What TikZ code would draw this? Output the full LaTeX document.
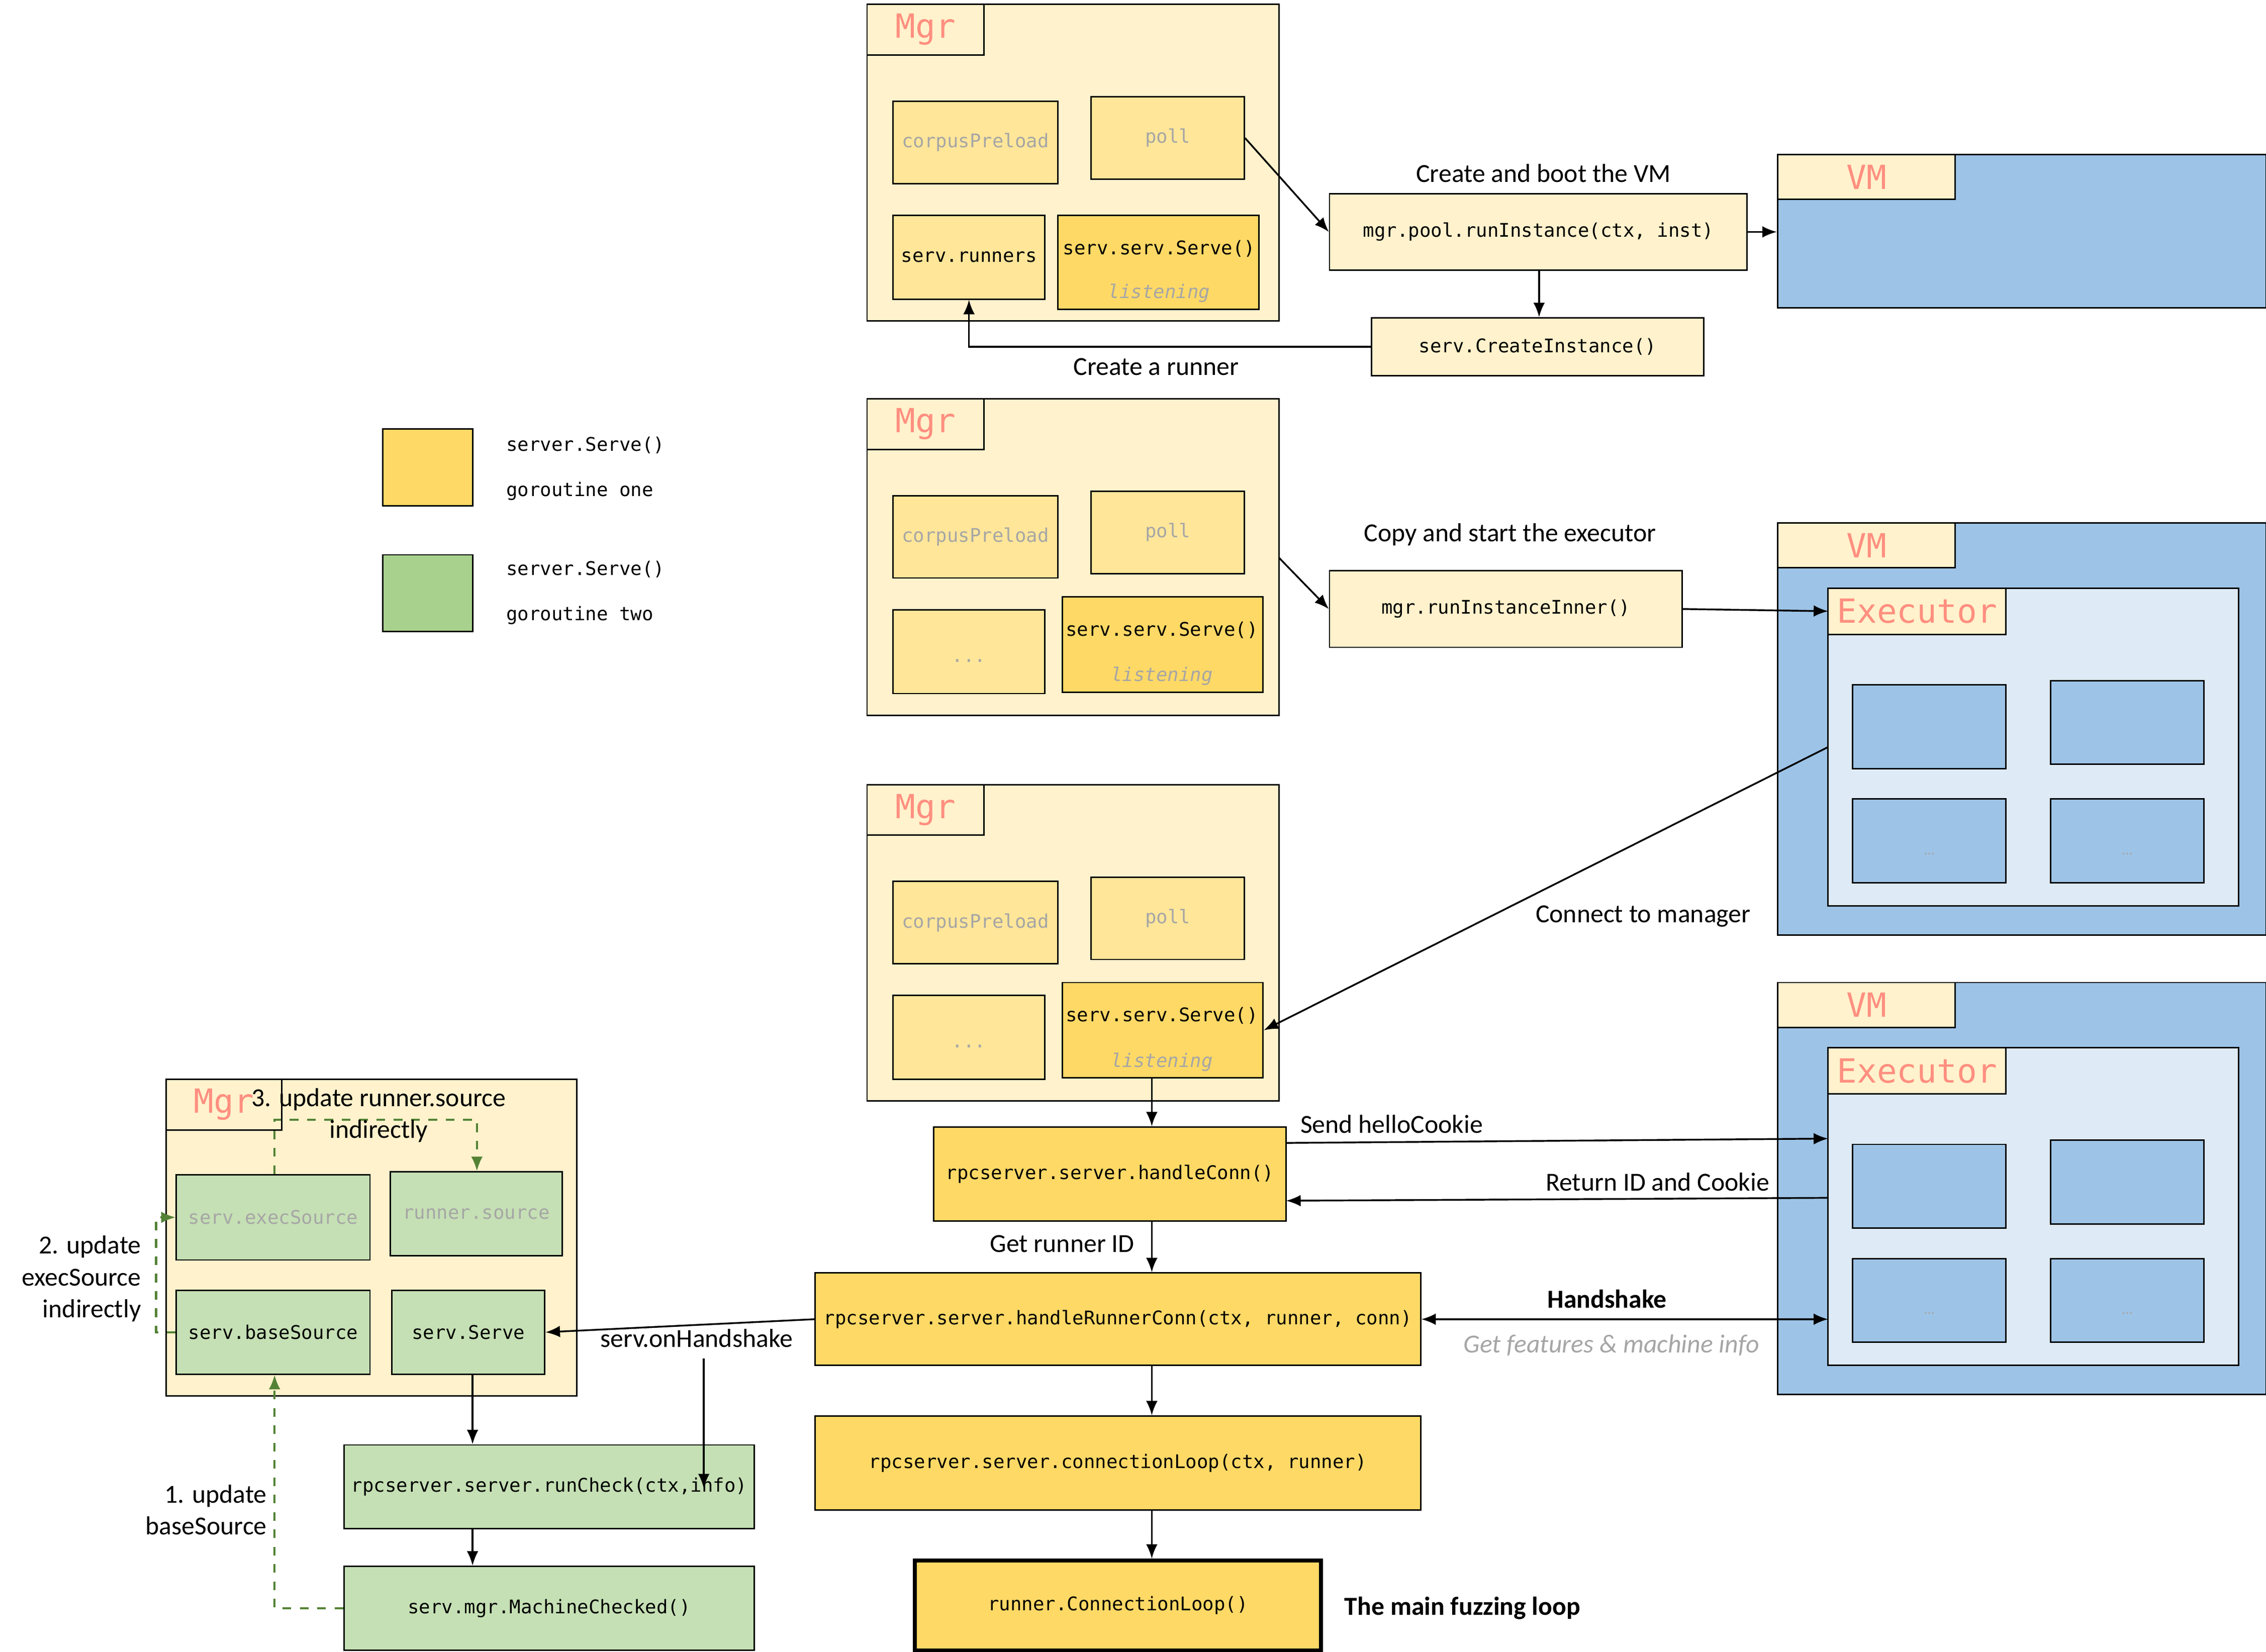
\documentclass[tikz,border=0pt]{standalone}
\usepackage{fontspec}
\setmainfont{Carlito}
\newfontfamily\cm{DejaVu Sans Mono}
\usetikzlibrary{arrows.meta}
\definecolor{ly}{HTML}{FFF2CC}
\definecolor{my}{HTML}{FFE699}
\definecolor{dy}{HTML}{FFD966}
\definecolor{lg}{HTML}{C5E0B4}
\definecolor{dg}{HTML}{A9D18E}
\definecolor{bl}{HTML}{9DC3E6}
\definecolor{lb}{HTML}{DEEBF7}
\definecolor{sal}{HTML}{FF8F80}
\definecolor{gtx}{HTML}{A6A6A6}
\definecolor{dgl}{HTML}{548235}
\newcommand\bx[7]{\node[#1,minimum width={(#5-(#3))*0.5pt},minimum height={(#6-(#4))*0.5pt}] (#2) at ({(#3+#5)/2},{(#4+#6)/2}) {#7};}
\tikzset{
 base/.style={draw=black,line width=0.5pt,inner sep=0pt,rectangle},
 mgr/.style={base,fill=ly},
 sub/.style={base,fill=my,font=\cm\fontsize{6.5}{8}\selectfont},
 hot/.style={base,fill=dy,font=\cm\fontsize{6.5}{8}\selectfont},
 grn/.style={base,fill=lg,font=\cm\fontsize{6.5}{8}\selectfont},
 vm/.style={base,fill=bl},
 exe/.style={base,fill=lb},
 tab/.style={base,fill=ly,text=sal,font=\cm\fontsize{11.5}{13}\selectfont},
 pale/.style={base,fill=ly,font=\cm\fontsize{6.5}{8}\selectfont},
 lbl/.style={font=\fontsize{9}{11}\selectfont,inner sep=1pt},
 code/.style={font=\cm\fontsize{6.5}{8}\selectfont,inner sep=1pt},
 lis/.style={font=\cm\itshape\fontsize{6.5}{8}\selectfont,text=gtx,inner sep=0pt},
 arr/.style={-{Latex[length=5pt,width=4pt]},line width=0.6pt},
 garr/.style={-{Latex[length=5pt,width=4pt]},line width=0.7pt,dgl,dashed},
}
\begin{document}
\begin{tikzpicture}[x=0.5pt,y=-0.5pt]
\useasboundingbox[fill=white] (0,0) rectangle (1568,1143);
% Mgr 1
\bx{mgr}{m1}{600}{3}{885}{222}{}
\bx{tab}{m1t}{600}{3}{681}{38}{Mgr}
\bx{sub,text=gtx}{m1c}{618}{70}{732}{127}{corpusPreload}
\bx{sub,text=gtx}{m1p}{755}{67}{861}{124}{poll}
\bx{sub}{m1r}{618}{149}{723}{207}{serv.runners}
\bx{hot}{m1s}{732}{149}{871}{214}{}
\node[code] at (802,172) {serv.serv.Serve()};
\node[lis] at (802,203) {listening};
\bx{pale}{ri}{920}{134}{1209}{187}{mgr.pool.runInstance(ctx, inst)}
\node[lbl] at (1068,120) {Create and boot the VM};
\bx{vm}{vm1}{1230}{107}{1568}{213}{}
\bx{tab}{vm1t}{1230}{107}{1353}{138}{VM}
\bx{pale}{ci}{949}{220}{1179}{260}{serv.CreateInstance()}
\draw[arr] (m1p.east) -- (ri.west);
\draw[arr] (ri.east) -- (ri.east -| vm1.west);
\draw[arr] (ri.south -| 1065,0) -- (ci.north -| 1065,0);
\draw[arr] (ci.west) -| (m1r.south);
\node[lbl] at (800,254) {Create a runner};
% legend
\bx{base,fill=dy}{lg1}{265}{297}{327}{350}{}
\bx{base,fill=dg}{lg2}{265}{384}{327}{437}{}
\node[code,anchor=west] at (348,308) {server.Serve()};
\node[code,anchor=west] at (348,340) {goroutine one};
\node[code,anchor=west] at (348,394) {server.Serve()};
\node[code,anchor=west] at (348,426) {goroutine two};
% Mgr 2
\bx{mgr}{m2}{600}{276}{885}{495}{}
\bx{tab}{m2t}{600}{276}{681}{311}{Mgr}
\bx{sub,text=gtx}{m2c}{618}{343}{732}{400}{corpusPreload}
\bx{sub,text=gtx}{m2p}{755}{340}{861}{397}{poll}
\bx{sub,text=gtx}{m2d}{618}{422}{723}{480}{\raisebox{-2ex}{...}}
\bx{hot}{m2s}{735}{413}{874}{479}{}
\node[code] at (804,436) {serv.serv.Serve()};
\node[lis] at (804,468) {listening};
\bx{pale}{rii}{920}{395}{1164}{448}{mgr.runInstanceInner()}
\node[lbl] at (1045,370) {Copy and start the executor};
\draw[arr] (885,386) -- (rii.west);
\bx{vm}{vm2}{1230}{362}{1568}{647}{}
\bx{tab}{vm2t}{1230}{362}{1353}{393}{VM}
\bx{exe}{ex2}{1265}{407}{1549}{627}{}
\bx{tab}{ex2t}{1265}{407}{1388}{439}{Executor}
\bx{vm}{a1}{1282}{474}{1388}{532}{}
\bx{vm}{a2}{1419}{471}{1525}{529}{}
\bx{vm,font=\tiny,text=gtx}{a3}{1282}{553}{1388}{611}{\raisebox{-4ex}{...}}
\bx{vm,font=\tiny,text=gtx}{a4}{1419}{553}{1525}{611}{\raisebox{-4ex}{...}}
\draw[arr] (rii.east) -- (1265,423);
% Mgr 3
\bx{mgr}{m3}{600}{543}{885}{762}{}
\bx{tab}{m3t}{600}{543}{681}{578}{Mgr}
\bx{sub,text=gtx}{m3c}{618}{610}{732}{667}{corpusPreload}
\bx{sub,text=gtx}{m3p}{755}{607}{861}{664}{poll}
\bx{sub,text=gtx}{m3d}{618}{689}{723}{747}{\raisebox{-2ex}{...}}
\bx{hot}{m3s}{735}{680}{874}{746}{}
\node[code] at (804,703) {serv.serv.Serve()};
\node[lis] at (804,735) {listening};
\draw[arr] (1265,517) -- (m3s.east);
\node[lbl] at (1137,634) {Connect to manager};
% VM 3
\bx{vm}{vm3}{1230}{680}{1568}{965}{}
\bx{tab}{vm3t}{1230}{680}{1353}{711}{VM}
\bx{exe}{ex3}{1265}{725}{1549}{945}{}
\bx{tab}{ex3t}{1265}{725}{1388}{757}{Executor}
\bx{vm}{b1}{1282}{792}{1388}{850}{}
\bx{vm}{b2}{1419}{789}{1525}{847}{}
\bx{vm,font=\tiny,text=gtx}{b3}{1282}{871}{1388}{929}{\raisebox{-4ex}{...}}
\bx{vm,font=\tiny,text=gtx}{b4}{1419}{871}{1525}{929}{\raisebox{-4ex}{...}}
% main chain
\bx{hot}{hc}{646}{780}{890}{845}{rpcserver.server.handleConn()}
\draw[arr] (m3s.south -| 797,0) -- (hc.north -| 797,0);
\draw[arr] (890,791) -- (1265,788);
\node[lbl] at (963,778) {Send helloCookie};
\draw[arr] (1265,829) -- (890,831);
\node[lbl] at (1147,818) {Return ID and Cookie};
\bx{hot}{hrc}{564}{881}{983}{945}{rpcserver.server.handleRunnerConn(ctx, runner, conn)}
\draw[arr] (hc.south -| 797,0) -- (hrc.north -| 797,0);
\node[lbl] at (735,861) {Get runner ID};
\draw[{Latex[length=5pt,width=4pt]}-{Latex[length=5pt,width=4pt]},line width=0.6pt] (hrc.east) -- (1265,913);
\node[lbl,font=\bfseries\fontsize{9}{11}\selectfont] at (1112,899) {Handshake};
\node[lbl,font=\itshape\fontsize{9}{11}\selectfont,text=gtx] at (1115,931) {Get features \& machine info};
\bx{hot}{cl}{564}{980}{983}{1045}{rpcserver.server.connectionLoop(ctx, runner)}
\draw[arr] (hrc.south -| 797,0) -- (cl.north -| 797,0);
\bx{hot,line width=1.3pt}{rcl}{633}{1080}{914}{1142}{runner.ConnectionLoop()}
\draw[arr] (cl.south -| 797,0) -- (rcl.north -| 797,0);
\node[lbl,font=\bfseries\fontsize{9}{11}\selectfont] at (1012,1113) {The main fuzzing loop};
% left Mgr
\bx{mgr}{m4}{115}{747}{399}{966}{}
\bx{tab}{m4t}{115}{747}{195}{782}{Mgr}
\bx{grn,text=gtx}{es}{122}{813}{256}{872}{serv.execSource}
\bx{grn,text=gtx}{rs}{270}{811}{389}{869}{runner.source}
\bx{grn}{bs}{122}{893}{256}{951}{serv.baseSource}
\bx{grn}{ss}{271}{893}{377}{951}{serv.Serve}
\bx{grn}{rc}{238}{1000}{522}{1058}{rpcserver.server.runCheck(ctx,info)}
\bx{grn}{mc}{238}{1084}{522}{1142}{serv.mgr.MachineChecked()}
\draw[arr] (hrc.west) -- (ss.east);
\node[lbl] at (482,926) {serv.onHandshake};
\coordinate (oh) at (487,940);
\draw[arr] (oh) -- (487,1030);
\draw[arr] (ss.south -| 327,0) -- (rc.north -| 327,0);
\draw[arr] (rc.south -| 327,0) -- (mc.north -| 327,0);
\draw[garr] (mc.west) -| (bs.south -| 190,0);
\node[lbl,align=right,anchor=east] at (187,1045) {1. update\\baseSource};
\draw[garr] (bs.west) -- (108,922) |- (es.west);
\node[lbl,align=right,anchor=east] at (100,885) {2. update\\execSource\\indirectly};
\draw[garr] (es.north -| 190,0) |- (330,775) -- (rs.north -| 330,0);
\node[lbl,align=center] at (262,772) {3. update runner.source\\indirectly};
\end{tikzpicture}
\end{document}
